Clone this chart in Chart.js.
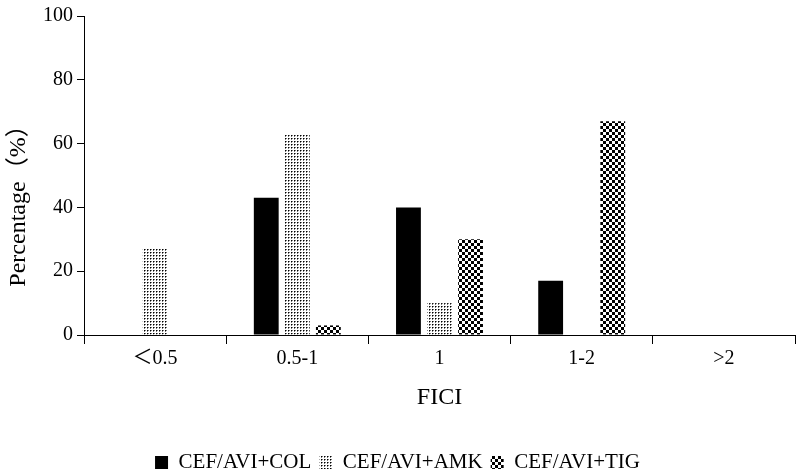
<!DOCTYPE html>
<html><head><meta charset="utf-8">
<script src="https://cdn.jsdelivr.net/npm/chart.js@4"></script>
<style>html,body{margin:0;padding:0;background:#fff}#wrap{width:797px;height:470px}</style>
</head><body><div id="wrap"><canvas id="c" width="797" height="470"></canvas></div>
<script>
const categories = ['＜0.5', '0.5-1', '1', '1-2', '>2'];
const seriesNames = ['CEF/AVI+COL', 'CEF/AVI+AMK', 'CEF/AVI+TIG'];
const colValues = [0, 43, 40, 17, 0];
const amkValues = [27, 63, 10, 0, 0];
const tigValues = [0, 3, 30, 67, 0];
const yTicks = [0, 20, 40, 60, 80, 100];
const xTitle = 'FICI';
const yTitle = 'Percentage（%）';

const FONT = "'Liberation Serif', 'Times New Roman', 'Noto Sans CJK SC', serif";

function makePattern(kind) {
  const t = document.createElement('canvas');
  const g = t.getContext('2d');
  if (kind === 'dots') {
    t.width = 3; t.height = 3;
    g.fillStyle = '#fff'; g.fillRect(0, 0, 3, 3);
    g.fillStyle = '#000'; g.fillRect(0, 0, 1, 1);
    g.fillStyle = '#7a7a7a'; g.fillRect(0, 1, 1, 1); g.fillRect(1, 0, 1, 1);
  } else {
    t.width = 6; t.height = 6;
    g.fillStyle = '#fff'; g.fillRect(0, 0, 6, 6);
    g.fillStyle = '#000'; g.fillRect(0, 0, 3, 3); g.fillRect(3, 3, 3, 3);
  }
  return document.getElementById('c').getContext('2d').createPattern(t, 'repeat');
}

const fills = ['#000000', makePattern('dots'), makePattern('checker')];
const values = [colValues, amkValues, tigValues];

// y-axis title drawn slightly below centre, as in the reference
const yTitlePlugin = {
  id: 'yTitlePlugin',
  afterDraw(chart) {
    const ctx = chart.ctx;
    ctx.save();
    ctx.translate(19, 200);
    ctx.rotate(-Math.PI / 2);
    ctx.font = "24px " + FONT;
    ctx.fillStyle = '#000';
    ctx.textAlign = 'center';
    ctx.textBaseline = 'middle';
    ctx.fillText(yTitle, 0, 0);
    ctx.restore();
  }
};

new Chart(document.getElementById('c'), {
  type: 'bar',
  data: {
    labels: categories,
    datasets: seriesNames.map((n, i) => ({
      label: n,
      data: values[i],
      backgroundColor: fills[i],
      borderWidth: 0,
      categoryPercentage: 0.655,
      barPercentage: 0.8
    }))
  },
  plugins: [yTitlePlugin],
  options: {
    responsive: false,
    animation: false,
    devicePixelRatio: 1,
    layout: { padding: { top: 13, right: 2, left: 0, bottom: -13 } },
    plugins: {
      tooltip: { enabled: false },
      legend: {
        position: 'bottom',
        labels: {
          boxWidth: 13, boxHeight: 13, padding: 8, color: '#000',
          font: { family: FONT, size: 21 }
        }
      }
    },
    scales: {
      x: {
        grid: { offset: true, drawOnChartArea: false, tickLength: 9, color: '#000', lineWidth: 1 },
        border: { color: '#000', width: 1 },
        ticks: { color: '#000', padding: 3, maxRotation: 0, font: { family: FONT, size: 20 } },
        title: { display: true, text: xTitle, color: '#000', font: { family: FONT, size: 24 }, padding: { top: 0, bottom: 32 } },
        afterFit: s => { s.height = 109; }
      },
      y: {
        min: 0, max: 100,
        afterBuildTicks: s => { s.ticks = yTicks.map(v => ({ value: v })); },
        grid: { drawOnChartArea: false, tickLength: 7, color: '#000', lineWidth: 1 },
        border: { color: '#000', width: 1 },
        ticks: { color: '#000', padding: 4, font: { family: FONT, size: 20 } },
        title: { display: false },
        afterFit: s => { s.width = 84; }
      }
    }
  }
});
</script>
</body></html>
